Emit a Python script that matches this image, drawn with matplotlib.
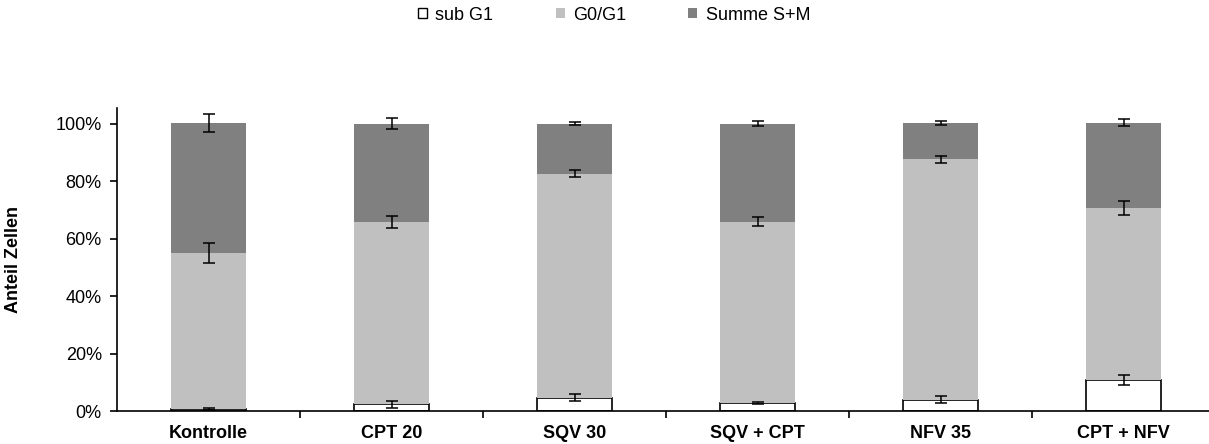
import matplotlib
matplotlib.use("Agg")
import matplotlib.pyplot as plt
import numpy as np
from matplotlib.ticker import PercentFormatter
from matplotlib.patches import Patch

categories = ["Kontrolle", "CPT 20", "SQV 30", "SQV + CPT", "NFV 35", "CPT + NFV"]
sub_g1 = [0.6, 2.3, 4.6, 2.8, 3.9, 10.9]
g0_g1 = [54.4, 63.6, 78.0, 63.1, 83.6, 59.8]
summe_sm = [45.3, 34.1, 17.4, 34.1, 12.8, 29.6]
err_sub = [0.3, 1.2, 1.2, 0.3, 1.2, 1.7]
err_g0 = [3.5, 2.1, 1.3, 1.6, 1.3, 2.4]
err_sm = [3.1, 1.8, 0.6, 0.9, 0.7, 1.3]
series_labels = ["sub G1", "G0/G1", "Summe S+M"]

sub = np.array(sub_g1) / 100
g0 = np.array(g0_g1) / 100
sm = np.array(summe_sm) / 100
x = np.arange(len(categories))
w = 0.41

FONT = "Liberation Sans"
fig = plt.figure(figsize=(12.09, 4.44), dpi=100)
ax = fig.add_axes([0.0968, 0.0743, 0.9082, 0.683])

ax.bar(x, sub, w, color="white", edgecolor="black", linewidth=1.2, zorder=2)
ax.bar(x, g0, w, bottom=sub, color="#C0C0C0", zorder=2)
ax.bar(x, sm, w, bottom=sub + g0, color="#808080", zorder=2)

ekw = dict(fmt="none", ecolor="black", elinewidth=1.1, capsize=4.2, capthick=1.1, zorder=3)
ax.errorbar(x, sub, yerr=np.array(err_sub) / 100, **ekw)
ax.errorbar(x, sub + g0, yerr=np.array(err_g0) / 100, **ekw)
ax.errorbar(x, sub + g0 + sm, yerr=np.array(err_sm) / 100, **ekw)

ax.set_xlim(-0.5, len(categories) - 0.5)
ax.set_ylim(0, 1.055)
ax.set_yticks(np.arange(0, 1.01, 0.2))
ax.yaxis.set_major_formatter(PercentFormatter(1.0, decimals=0))
ax.set_xticks(x)
ax.set_xticklabels(categories, fontweight="bold", fontsize=13, family=FONT)
ax.set_xticks(np.arange(0.5, len(categories) - 0.5, 1), minor=True)
ax.tick_params(axis="x", which="major", length=0, pad=10)
ax.tick_params(axis="x", which="minor", length=5, width=1.2, direction="out")
ax.tick_params(axis="y", length=5, width=1.2, direction="out", pad=6)
for lab in ax.get_yticklabels():
    lab.set_family(FONT)
    lab.set_fontsize(13)

for s in ["top", "right"]:
    ax.spines[s].set_visible(False)
ax.spines["left"].set_linewidth(1.2)
ax.spines["bottom"].set_linewidth(1.2)

ax.set_ylabel("Anteil Zellen", fontweight="bold", fontsize=13, family=FONT)
ax.yaxis.set_label_coords(-0.0864, 0.5)

handles = [
    Patch(facecolor="white", edgecolor="black", linewidth=1.0),
    Patch(facecolor="#C0C0C0"),
    Patch(facecolor="#808080"),
]
fig.legend(handles, series_labels, loc="center", bbox_to_anchor=(0.508, 1 - 15 / 444), ncol=3,
           frameon=False, handlelength=0.5, handleheight=0.5, handletextpad=0.45,
           columnspacing=3.45, borderaxespad=0, borderpad=0,
           prop={"family": FONT, "size": 13})

fig.savefig("out.png", dpi=100)
